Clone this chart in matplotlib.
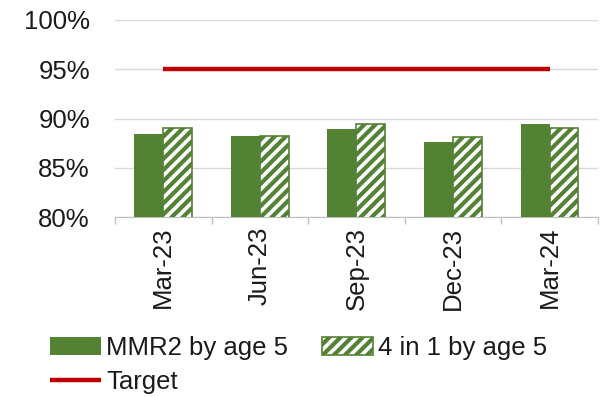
import numpy as np
import matplotlib.pyplot as plt
from matplotlib.ticker import FuncFormatter, FixedLocator

plt.rcParams['font.family'] = ['Liberation Sans', 'DejaVu Sans']
plt.rcParams['hatch.linewidth'] = 3.0

quarters = ['Mar-23', 'Jun-23', 'Sep-23', 'Dec-23', 'Mar-24']
mmr2 = [88.4, 88.25, 88.9, 87.6, 89.4]
four_in_one = [89.0, 88.2, 89.4, 88.1, 89.0]
target = [95, 95, 95, 95, 95]

green = '#548235'
red = '#C00000'
fs = 18.5

fig = plt.figure(figsize=(6.02, 3.97), dpi=100)
ax = fig.add_axes([0.191, 0.453, 0.802, 0.497])

x = np.arange(len(quarters))
w = 0.3
b1 = ax.bar(x - w/2, mmr2, w, color=green, zorder=3)
b2 = ax.bar(x + w/2, four_in_one, w, facecolor='white', edgecolor=green,
            hatch='///', linewidth=1.2, zorder=3)
ln, = ax.plot(x, target, color=red, linewidth=3.2, solid_capstyle='butt',
              zorder=4)

ax.set_ylim(80, 100)
ax.set_xlim(-0.5, len(quarters) - 0.5)
ax.set_yticks([80, 85, 90, 95, 100])
ax.yaxis.set_major_formatter(FuncFormatter(lambda v, p: f'{v:.0f}%'))
ax.grid(axis='y', color='#D9D9D9', linewidth=1, zorder=0)
ax.set_axisbelow(True)

ax.set_xticks(x)
ax.set_xticklabels(quarters, rotation=90)
ax.xaxis.set_minor_locator(FixedLocator(np.arange(-0.5, len(quarters), 1)))
ax.tick_params(axis='x', which='major', length=0, pad=7)
ax.tick_params(axis='x', which='minor', length=5, color='#BFBFBF', width=1)
ax.tick_params(axis='y', length=0, pad=18)
ax.tick_params(labelsize=fs, labelcolor='#1a1a1a')

for s in ['top', 'right', 'left']:
    ax.spines[s].set_visible(False)
ax.spines['bottom'].set_color('#BFBFBF')

# legend fills column by column: MMR2 / Target in col 1, 4 in 1 in col 2
fig.legend([b1, ln, b2], ['MMR2 by age 5', 'Target', '4 in 1 by age 5'],
           ncol=2, loc='lower left', bbox_to_anchor=(0.053, -0.038),
           frameon=False, fontsize=fs, handlelength=2.0, handletextpad=0.2,
           columnspacing=1.3, labelspacing=0.4, borderpad=0.2,
           labelcolor='#1a1a1a')

fig.savefig('out.png', dpi=100)
